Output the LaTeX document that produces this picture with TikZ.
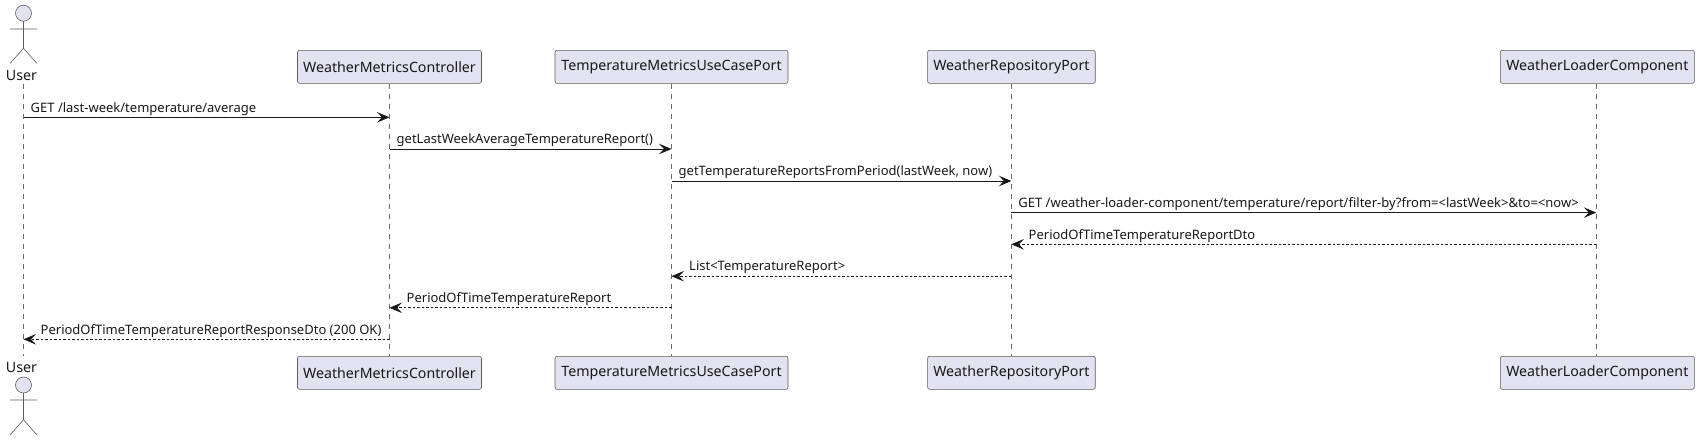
\documentclass[tikz,border=0pt]{standalone}
\usepackage{fontspec}
\setmainfont{Noto Sans}
\usetikzlibrary{arrows.meta}
\definecolor{pfill}{HTML}{E2E2F0}
\definecolor{pline}{HTML}{181818}
\tikzset{x=1pt,y=-1pt,
  partbox/.style={draw=pline!70,fill=pfill,line width=0.6pt,rounded corners=2pt,minimum height=33pt,inner xsep=0pt,inner ysep=0pt,font=\fontsize{14.2}{16}\selectfont,text=pline,anchor=center},
  lifeline/.style={draw=pline!65,line width=0.5pt,dash pattern=on 5pt off 5pt},
  actorline/.style={draw=pline!70,line width=0.6pt,fill=pfill},
  msglabel/.style={font=\fontsize{13}{15}\selectfont,text=pline,inner sep=0pt,anchor=base west},
  tip/.style={-{Stealth[length=12.5pt,width=10.5pt,inset=5pt]}},
  callmsg/.style={draw=pline,line width=1pt,tip},
  retmsg/.style={draw=pline,line width=0.75pt,dash pattern=on 2.5pt off 2pt,tip},
  actorlabel/.style={font=\fontsize{14.2}{16}\selectfont,text=pline,inner sep=0pt,anchor=center}
}
\begin{document}
\begin{tikzpicture}
\useasboundingbox (0,0) rectangle (1699,440);
% lifelines
\foreach \n/\x in {u/23.5,c/389.5,t/671.5,r/1011.4,l/1596.3}{
  \coordinate (\n-top) at (\x,83.5);
  \coordinate (\n-bot) at (\x,356);
  \draw[lifeline] (\n-top) -- (\n-bot);
}
% participants
\node[partbox,minimum width=184pt] (c1) at (389.5,66.8) {WeatherMetricsController};
\node[partbox,minimum width=233pt] (t1) at (671.5,66.8) {TemperatureMetricsUseCasePort};
\node[partbox,minimum width=167.6pt] (r1) at (1011.4,66.8) {WeatherRepositoryPort};
\node[partbox,minimum width=194pt] (l1) at (1597.3,66.8) {WeatherLoaderComponent};
\node[partbox,minimum width=184pt] (c2) at (389.5,372.8) {WeatherMetricsController};
\node[partbox,minimum width=233pt] (t2) at (671.5,372.8) {TemperatureMetricsUseCasePort};
\node[partbox,minimum width=167.6pt] (r2) at (1011.4,372.8) {WeatherRepositoryPort};
\node[partbox,minimum width=194pt] (l2) at (1597.3,372.8) {WeatherLoaderComponent};
% actors
\draw[actorline] (23.5,13.2) circle (8);
\draw[actorline,fill=none] (23.5,21.2) -- (23.5,48.3) (10,29) -- (37,29) (10,63.5) -- (23.5,48.3) -- (37,63.5);
\node[actorlabel] (ua) at (21.5,75.8) {User};
\draw[actorline] (23.5,385) circle (8);
\draw[actorline,fill=none] (23.5,393) -- (23.5,419.7) (10,400) -- (37,400) (10,435) -- (23.5,419.7) -- (37,435);
\node[actorlabel] (ub) at (21.5,367.8) {User};
% messages
\draw[callmsg] (u-top |- 0,117.3) -- (c-top |- 0,117.3);
\node[msglabel] (m1) at (30.5,112) {GET /last-week/temperature/average};
\draw[callmsg] (c-top |- 0,149) -- (t-top |- 0,149);
\node[msglabel] (m2) at (396.5,143.7) {getLastWeekAverageTemperatureReport()};
\draw[callmsg] (t-top |- 0,181) -- (r-top |- 0,181);
\node[msglabel] (m3) at (678.5,175.7) {getTemperatureReportsFromPeriod(lastWeek, now)};
\draw[callmsg] (r-top |- 0,212.6) -- (l-top |- 0,212.6);
\node[msglabel] (m4) at (1018.2,207.3) {GET /weather-loader-component/temperature/report/filter-by?from=<lastWeek>\&to=<now>};
\draw[retmsg] (l-top |- 0,244.3) -- (r-top |- 0,244.3);
\node[msglabel] (m5) at (1028.5,239) {PeriodOfTimeTemperatureReportDto};
\draw[retmsg] (r-top |- 0,276.2) -- (t-top |- 0,276.2);
\node[msglabel] (m6) at (689,270.9) {List<TemperatureReport>};
\draw[retmsg] (t-top |- 0,307.8) -- (c-top |- 0,307.8);
\node[msglabel] (m7) at (406.5,302.5) {PeriodOfTimeTemperatureReport};
\draw[retmsg] (c-top |- 0,339.3) -- (u-top |- 0,339.3);
\node[msglabel] (m8) at (40.5,334) {PeriodOfTimeTemperatureReportResponseDto (200 OK)};
\end{tikzpicture}
\end{document}
